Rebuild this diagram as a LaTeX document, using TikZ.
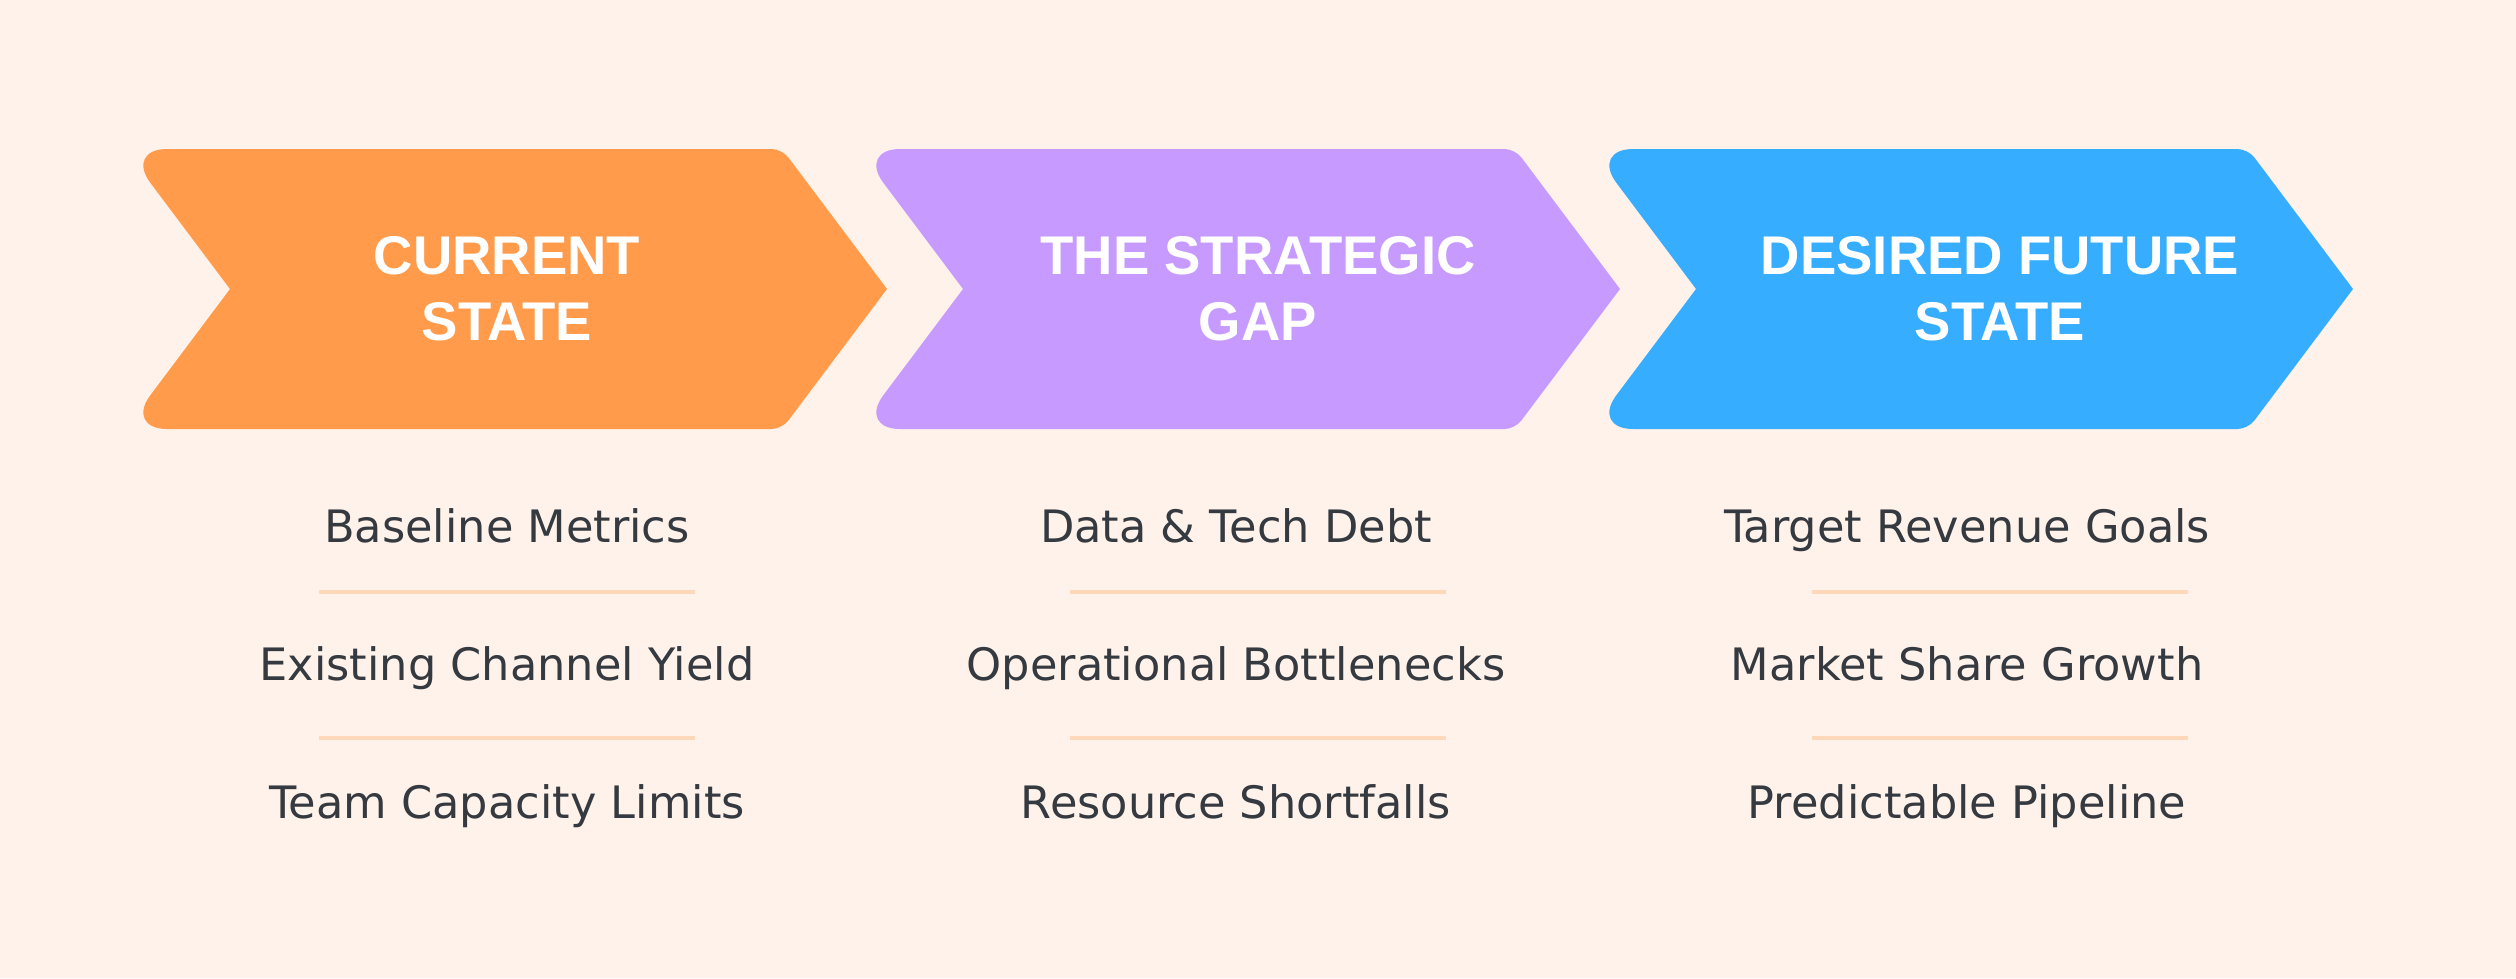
\documentclass[tikz,border=0pt]{standalone}
\usepackage{fontspec}
\setmainfont{Liberation Sans}
\newfontfamily\itemfont{DejaVu Sans}
\definecolor{bgpeach}{HTML}{FFF2EA}
\definecolor{steporange}{HTML}{FF9B4B}
\definecolor{steppurple}{HTML}{C69AFF}
\definecolor{stepblue}{HTML}{36ADFF}
\definecolor{sepcolor}{HTML}{FFD8BA}
\definecolor{itemtext}{HTML}{353A40}

\tikzset{
    steptitle/.style={text=white, align=center, font=\bfseries\fontsize{15.5}{18.8}\selectfont},
    stepitem/.style={text=itemtext, anchor=base, font=\itemfont\fontsize{12.7}{15}\selectfont},
    sepline/.style={draw=sepcolor, line width=1pt}
}

\begin{document}
\begin{tikzpicture}[x=0.01cm, y=-0.01cm]
        \fill[bgpeach] (0, 0) rectangle (2516, 978);
        % chevron centre / title centre / item centre
        \foreach \c/\tc/\ic/\col/\n/\t/\ia/\ib/\id in {
            506/507/507/steporange/cur/{CURRENT\\STATE}/{Baseline Metrics}/{Existing Channel Yield}/{Team Capacity Limits},
            1239/1258/1236/steppurple/gap/{THE STRATEGIC\\GAP}/{Data \& Tech Debt}/{Operational Bottlenecks}/{Resource Shortfalls},
            1972/2000/1967/stepblue/fut/{DESIRED FUTURE\\STATE}/{Target Revenue Goals}/{Market Share Growth}/{Predictable Pipeline}%
        } {
            \fill[\col] (\c-276, 289) [rounded corners=12pt] -- (\c-381, 149) [rounded corners=3pt] -- (\c+276, 149)
                [sharp corners] -- (\c+381, 289) [rounded corners=3pt] -- (\c+276, 429) [rounded corners=12pt] -- (\c-381, 429)
                [sharp corners] -- cycle;
            \node[steptitle] (\n) at (\tc, 289) {\t};
            \node[stepitem] (\n-1) at (\ic, 542) {\ia};
            \node[stepitem] (\n-2) at (\ic, 680) {\ib};
            \node[stepitem] (\n-3) at (\ic, 818) {\id};
            \draw[sepline] (\tc-188, 592) -- (\tc+188, 592);
            \draw[sepline] (\tc-188, 738) -- (\tc+188, 738);
        }
    \end{tikzpicture}
\end{document}
